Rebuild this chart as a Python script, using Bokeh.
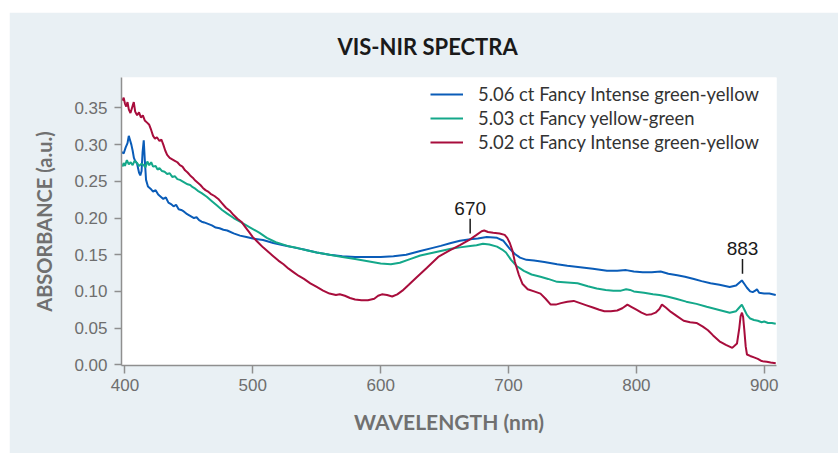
from bokeh.plotting import figure
from bokeh.models import Range1d, Legend, LegendItem, SingleIntervalTicker, NumeralTickFormatter
from bokeh.core.properties import value
from bokeh.embed import file_html
from bokeh.resources import INLINE

# ---------------- data ----------------
series_names = ["5.06 ct Fancy Intense green-yellow",
                "5.03 ct Fancy yellow-green",
                "5.02 ct Fancy Intense green-yellow"]
series_colors = ["#0A5CB8", "#14A88A", "#A80D3C"]

wl_blue = [397.5, 399, 400.5, 402, 403, 404, 405, 406, 407, 408, 409.5, 411, 412, 413, 413.8, 414.7,
           415.5, 416.5, 418, 420, 422, 424, 426, 428, 430, 432, 434, 436, 438, 440, 442, 444, 446,
           448, 450, 452, 454, 456, 458, 460, 462, 465, 468, 471, 474, 477, 480, 485, 490, 495, 500,
           508, 516, 524, 532, 540, 550, 560, 570, 580, 590, 600, 610, 620, 631, 640, 647, 655, 662,
           670, 676, 683, 691, 696, 701, 705, 709, 714, 720, 728, 738, 746, 756, 766, 777, 785, 792,
           798, 805, 812, 819, 825, 832, 838, 845, 851, 858, 865, 873, 878, 882.5, 884.5, 886.5, 889,
           891, 893, 894.3, 896, 900, 904, 909]
ab_blue = [0.290, 0.288, 0.296, 0.302, 0.312, 0.306, 0.300, 0.292, 0.282, 0.278, 0.274, 0.262, 0.258,
           0.264, 0.290, 0.306, 0.280, 0.252, 0.243, 0.240, 0.236, 0.238, 0.232, 0.229, 0.226, 0.228,
           0.221, 0.219, 0.216, 0.218, 0.212, 0.211, 0.209, 0.206, 0.204, 0.202, 0.200, 0.201, 0.197,
           0.195, 0.194, 0.192, 0.190, 0.187, 0.186, 0.184, 0.183, 0.179, 0.176, 0.174, 0.172, 0.170,
           0.166, 0.163, 0.160, 0.157, 0.153, 0.150, 0.148, 0.147, 0.147, 0.147, 0.148, 0.150, 0.155,
           0.159, 0.162, 0.166, 0.169, 0.171, 0.172, 0.174, 0.173, 0.169, 0.158, 0.151, 0.146, 0.143,
           0.142, 0.140, 0.137, 0.135, 0.133, 0.131, 0.128, 0.128, 0.129, 0.127, 0.126, 0.126, 0.127,
           0.124, 0.122, 0.120, 0.117, 0.114, 0.111, 0.109, 0.106, 0.108, 0.115, 0.110, 0.105, 0.100,
           0.099, 0.101, 0.103, 0.098, 0.097, 0.097, 0.095]

wl_green = [398, 399, 400, 401.5, 403, 404.5, 406, 407.5, 409.5, 411, 413, 414.7, 416, 417.5, 419, 420.5,
            422, 424, 425.5, 427, 429, 431, 433, 435, 437, 439, 441, 443, 445, 447, 449, 451, 453, 455,
            457, 460, 464, 468, 472, 476, 480, 485, 490, 498, 505, 511, 518, 527, 535, 542, 550, 560,
            570, 580, 590, 600, 608, 615, 623, 631, 639, 647, 655, 662, 670, 675, 680, 685, 691, 695,
            698, 702, 706, 712, 718, 725, 731, 738, 746, 754, 762, 769, 776, 782, 788, 792, 795, 798,
            806, 813, 818, 824, 831, 839, 847, 855, 864, 873, 878, 880, 882.5, 884.5, 886.5, 889, 892,
            895, 898, 900, 903, 906, 909]
ab_green = [0.270, 0.275, 0.271, 0.279, 0.273, 0.276, 0.272, 0.278, 0.275, 0.271, 0.274, 0.272, 0.269,
            0.277, 0.272, 0.276, 0.270, 0.271, 0.266, 0.268, 0.264, 0.263, 0.260, 0.261, 0.256, 0.257,
            0.253, 0.252, 0.250, 0.248, 0.246, 0.245, 0.242, 0.240, 0.237, 0.234, 0.229, 0.223, 0.217,
            0.211, 0.206, 0.200, 0.195, 0.187, 0.180, 0.173, 0.167, 0.162, 0.159, 0.156, 0.153, 0.150,
            0.147, 0.144, 0.141, 0.138, 0.137, 0.139, 0.144, 0.149, 0.152, 0.155, 0.158, 0.160, 0.162,
            0.163, 0.165, 0.164, 0.161, 0.157, 0.153, 0.143, 0.135, 0.128, 0.123, 0.120, 0.117, 0.113,
            0.112, 0.111, 0.107, 0.104, 0.102, 0.101, 0.101, 0.103, 0.102, 0.100, 0.098, 0.096, 0.095,
            0.093, 0.090, 0.086, 0.083, 0.079, 0.075, 0.071, 0.073, 0.077, 0.082, 0.075, 0.068, 0.063,
            0.061, 0.060, 0.058, 0.059, 0.057, 0.057, 0.056]

wl_red = [398, 399, 400, 401, 402, 403, 404.3, 405.5, 406.9, 408, 409.5, 411, 412.5, 414, 415.5, 417.3,
          419, 420.5, 422, 423.5, 425, 427, 428.5, 430, 431.5, 433, 435, 437, 439, 441, 443, 445, 447,
          449, 451, 453, 455, 457, 459, 461, 463, 465, 467, 470, 473, 476, 479, 482, 485, 488, 491, 494,
          497, 500, 504, 508, 512, 516, 520, 524, 528, 532, 536, 540, 545, 550, 555, 560, 565, 568, 572,
          576, 580, 585, 590, 595, 598, 601, 605, 609, 613, 617, 622, 628, 636, 645, 654, 662, 670, 675,
          679, 681, 684, 688, 693, 697, 699, 701, 703, 705, 708, 711, 715, 720, 725, 729, 733, 737, 741,
          746, 751, 756, 761, 766, 771, 775, 780, 785, 789, 793, 796, 800, 804, 808, 812, 815, 818, 820,
          823, 827, 832, 837, 842, 847, 852, 856, 860, 865, 870, 875, 878.7, 880.5, 881.5, 882.6, 883.5,
          884.4, 885.5, 886.5, 889, 892, 895, 898, 902, 905, 909]
ab_red = [0.360, 0.364, 0.356, 0.352, 0.358, 0.348, 0.343, 0.350, 0.358, 0.345, 0.340, 0.344, 0.337,
          0.340, 0.333, 0.330, 0.327, 0.320, 0.312, 0.308, 0.310, 0.305, 0.307, 0.300, 0.292, 0.286,
          0.282, 0.280, 0.278, 0.276, 0.272, 0.270, 0.265, 0.262, 0.258, 0.255, 0.251, 0.248, 0.245,
          0.241, 0.238, 0.236, 0.233, 0.230, 0.226, 0.220, 0.214, 0.210, 0.204, 0.199, 0.195, 0.188,
          0.181, 0.174, 0.167, 0.160, 0.154, 0.148, 0.142, 0.137, 0.131, 0.126, 0.121, 0.117, 0.111,
          0.106, 0.101, 0.097, 0.095, 0.096, 0.094, 0.091, 0.089, 0.088, 0.088, 0.090, 0.094, 0.096,
          0.095, 0.093, 0.096, 0.101, 0.109, 0.119, 0.132, 0.147, 0.156, 0.163, 0.171, 0.177, 0.182,
          0.183, 0.181, 0.180, 0.179, 0.177, 0.173, 0.166, 0.156, 0.140, 0.123, 0.110, 0.103, 0.100,
          0.097, 0.090, 0.082, 0.082, 0.084, 0.086, 0.087, 0.084, 0.081, 0.078, 0.075, 0.073, 0.073,
          0.074, 0.077, 0.082, 0.079, 0.075, 0.071, 0.068, 0.069, 0.071, 0.076, 0.082, 0.078, 0.072,
          0.066, 0.060, 0.058, 0.057, 0.052, 0.047, 0.040, 0.032, 0.027, 0.023, 0.029, 0.050, 0.066,
          0.071, 0.065, 0.048, 0.025, 0.014, 0.012, 0.010, 0.008, 0.005, 0.004, 0.003, 0.002]

peak_wl = [670, 883]
peak_labels = ["670", "883"]
peak_tick_bottom = [0.179, 0.124]
peak_tick_top = [0.199, 0.144]
peak_text_y = [0.213, 0.159]

x_ticks = [400, 500, 600, 700, 800, 900]

# ---------------- figure ----------------
PANEL = "#E9F0F4"
p = figure(width=829, height=441, output_backend="svg", toolbar_location=None,
           x_range=Range1d(397.3, 909.6), y_range=Range1d(-0.001, 0.3915),
           min_border_left=112, min_border_right=62, min_border_top=62, min_border_bottom=88,
           background_fill_color="white", border_fill_color=PANEL, outline_line_color=None)
p.margin = (12, 0, 0, 9)

p.title.text = "VIS-NIR SPECTRA"
p.title.align = "left"
p.title.offset = 216
p.title.text_font = "Lato"
p.title.text_font_size = "22px"
p.title.text_font_style = "bold"
p.title.text_color = "#1A1A1A"
p.title.standoff = 36

p.grid.visible = False

for ax in (p.xaxis[0], p.yaxis[0]):
    ax.axis_line_color = "#8F8F8F"
    ax.axis_line_width = 1.5
    ax.major_tick_line_color = "#8F8F8F"
    ax.major_tick_line_width = 1.5
    ax.major_tick_in = 0
    ax.major_tick_out = 8
    ax.minor_tick_line_color = None
    ax.major_label_text_font = "Liberation Sans"
    ax.major_label_text_font_size = "17px"
    ax.major_label_text_color = "#6E6E6E"
    ax.axis_label_text_font = "Lato"
    ax.axis_label_text_font_style = "bold"
    ax.axis_label_text_color = "#707070"
    ax.axis_label_standoff = 15

p.xaxis.axis_label_text_font_size = "21px"
p.yaxis.axis_label_text_font_size = "20px"
p.xaxis.ticker = x_ticks
p.xaxis.major_label_standoff = 5
p.yaxis.ticker = SingleIntervalTicker(interval=0.05)
p.yaxis.major_tick_out = 7
p.yaxis.major_label_standoff = 7
p.yaxis.formatter = NumeralTickFormatter(format="0.00")
p.xaxis.axis_label = "WAVELENGTH (nm)"
p.yaxis.axis_label = "ABSORBANCE (a.u.)"

renderers = []
for wl, ab, col in [(wl_blue, ab_blue, series_colors[0]),
                    (wl_green, ab_green, series_colors[1]),
                    (wl_red, ab_red, series_colors[2])]:
    r = p.line(wl, ab, line_color=col, line_width=2)
    renderers.append(r)

# peak markers
p.segment(x0=peak_wl, y0=peak_tick_bottom, x1=peak_wl, y1=peak_tick_top,
          line_color="#1A1A1A", line_width=1.5)
p.text(x=peak_wl, y=peak_text_y, text=peak_labels, text_align="center", text_baseline="alphabetic",
       text_font=value("Liberation Sans"), text_font_size="19px", text_color="#1A1A1A")

legend = Legend(items=[LegendItem(label=n, renderers=[r]) for n, r in zip(series_names, renderers)],
                location=(309, 212))
legend.border_line_color = None
legend.background_fill_alpha = 0
legend.label_text_font = "Lato"
legend.label_text_font_size = "18.4px"
legend.label_text_color = "#333333"
legend.glyph_width = 33
legend.label_standoff = 15
legend.spacing = 2
legend.label_height = 21
legend.padding = 0
legend.margin = 0
p.add_layout(legend)

open("out.html", "w").write(file_html(p, INLINE))
